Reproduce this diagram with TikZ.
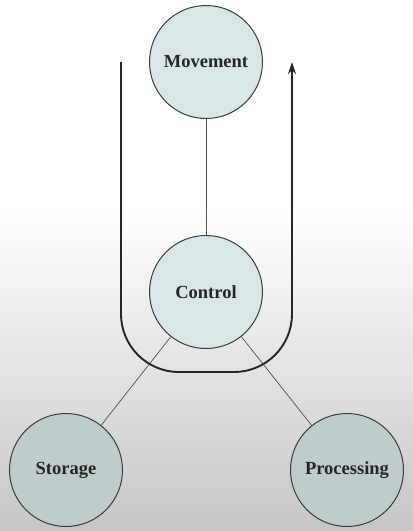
\documentclass[tikz,border=0pt]{standalone}
\usepackage{fontspec}
\setmainfont{Liberation Serif}
\usetikzlibrary{arrows.meta}
\definecolor{lightfill}{RGB}{217,229,231}
\definecolor{darkfill}{RGB}{192,203,204}
\definecolor{rim}{RGB}{60,60,60}
\newcommand{\lbl}[1]{\fontsize{18.5}{20}\selectfont\bfseries #1}

\begin{document}
\begin{tikzpicture}[x=1pt,y=-1pt,
    unit/.style={circle,draw=rim,line width=1pt,fill=lightfill,minimum size=113pt,inner sep=0pt,text=black!85},
    lowunit/.style={unit,fill=darkfill},
    link/.style={draw=rim!90,line width=0.7pt},
    flow/.style={line width=1.9pt,black!85,rounded corners=58pt,-{Stealth[length=12pt,width=8pt]}}]
    % background, white fading to grey
    \fill[white] (0,0) rectangle (413,531);
    \shade[top color=white,bottom color={rgb,255:red,198;green,198;blue,198}] (0,210) rectangle (413,531);
    \useasboundingbox (0,0) rectangle (413,531);
    \node[unit] (M) at (206,62) {\lbl{Movement}};
    \node[unit] (C) at (206,292) {\lbl{Control}};
    \node[lowunit] (S) at (66,470) {\lbl{Storage}};
    \node[lowunit] (P) at (347,470) {\lbl{Processing}};
    \path[link] (M) edge (C);
    \path[link] (C) edge (S);
    \path[link] (C) edge (P);
    \coordinate (in) at (121,62);
    \coordinate (out) at (292,62);
    \draw[flow] (in) -- (121,372) -- (292,372) -- (out);
  \end{tikzpicture}
\end{document}
